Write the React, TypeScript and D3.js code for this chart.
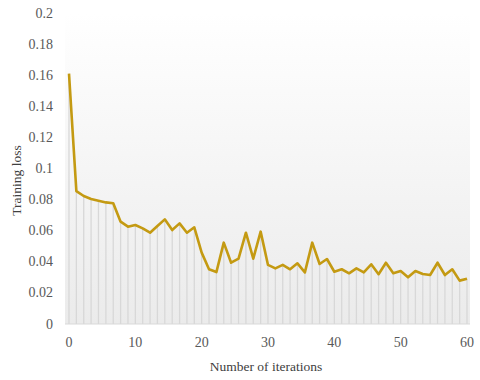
import React from 'react'
import {scaleLinear, line} from 'd3'

// iterations (x) and training loss (y)
const iterations = [0, 1.11, 2.22, 3.33, 4.44, 5.56, 6.67, 7.78, 8.89, 10,
  11.11, 12.22, 13.33, 14.44, 15.56, 16.67, 17.78, 18.89, 20, 21.11,
  22.22, 23.33, 24.44, 25.56, 26.67, 27.78, 28.89, 30, 31.11, 32.22,
  33.33, 34.44, 35.56, 36.67, 37.78, 38.89, 40, 41.11, 42.22, 43.33,
  44.44, 45.56, 46.67, 47.78, 48.89, 50, 51.11, 52.22, 53.33, 54.44,
  55.56, 56.67, 57.78, 58.89, 60]
const loss = [0.161, 0.0855, 0.0823, 0.0804, 0.0793, 0.0782, 0.0776, 0.0658, 0.0626, 0.0637,
  0.0615, 0.0587, 0.063, 0.0673, 0.0604, 0.0647, 0.0587, 0.0622, 0.0459, 0.0352,
  0.0334, 0.0523, 0.0394, 0.042, 0.0587, 0.042, 0.0594, 0.038, 0.0358, 0.038,
  0.0352, 0.039, 0.0332, 0.0523, 0.0386, 0.0418, 0.0336, 0.0352, 0.0326, 0.0358,
  0.0332, 0.0384, 0.032, 0.0394, 0.0326, 0.0341, 0.03, 0.0341, 0.0322, 0.0315,
  0.0394, 0.0315, 0.0352, 0.0279, 0.0291]
const xTicks = [0, 10, 20, 30, 40, 50, 60]
const yTicks = [0, 0.02, 0.04, 0.06, 0.08, 0.1, 0.12, 0.14, 0.16, 0.18, 0.2]

const font = 'Liberation Serif, DejaVu Serif, serif'

export default function App() {
  const x = scaleLinear().domain([0, 60]).range([69, 467])
  const y = scaleLinear().domain([0, 0.2]).range([324, 13])

  const pts = iterations.map((it, i) => [it, loss[i]] as [number, number])
  const path = line<[number, number]>()
    .x(d => x(d[0]))
    .y(d => y(d[1]))(pts) || ''

  return (
    <svg width={480} height={380} style={{position: 'absolute', left: 0, top: 0}}>
      <defs>
        <linearGradient id="bg" x1="0" y1="0" x2="0" y2="1">
          <stop offset="0" stopColor="#ffffff" />
          <stop offset="1" stopColor="#ebebeb" />
        </linearGradient>
      </defs>
      <rect width={480} height={380} fill="#fff" />
      {/* plot area */}
      <rect x={65} y={y(0.2)} width={405} height={y(0) - y(0.2)} fill="url(#bg)" />

      {/* drop lines */}
      {pts.map((d, i) => (
        <line key={i} x1={x(d[0])} x2={x(d[0])} y1={y(d[1])} y2={y(0)}
          stroke="#d8d8d8" strokeWidth={1.3} />
      ))}
      <line x1={65} x2={470} y1={y(0)} y2={y(0)} stroke="#d9d9d9" strokeWidth={1} />

      <path d={path} fill="none" stroke="#C49A12" strokeWidth={2.6} strokeLinejoin="round" />

      <g style={{fontFamily: font}}>
        {/* y axis labels */}
        {yTicks.map(t => (
          <text key={t} x={53} y={y(t)} textAnchor="end" dominantBaseline="central"
            fontSize={14} fill="#595959">{+t.toFixed(2)}</text>
        ))}
        {/* x axis labels */}
        {xTicks.map(t => (
          <text key={t} x={x(t)} y={342} textAnchor="middle" dominantBaseline="central"
            fontSize={14} fill="#595959">{t}</text>
        ))}

        <text x={0} y={0} transform={`translate(16,${y(0.1) + 12}) rotate(-90)`}
          textAnchor="middle" dominantBaseline="central"
          fontSize={13.5} fill="#404040">Training loss</text>
        <text x={266} y={366} textAnchor="middle" dominantBaseline="central"
          fontSize={13.5} fill="#404040">Number of iterations</text>
      </g>
    </svg>
  )
}
